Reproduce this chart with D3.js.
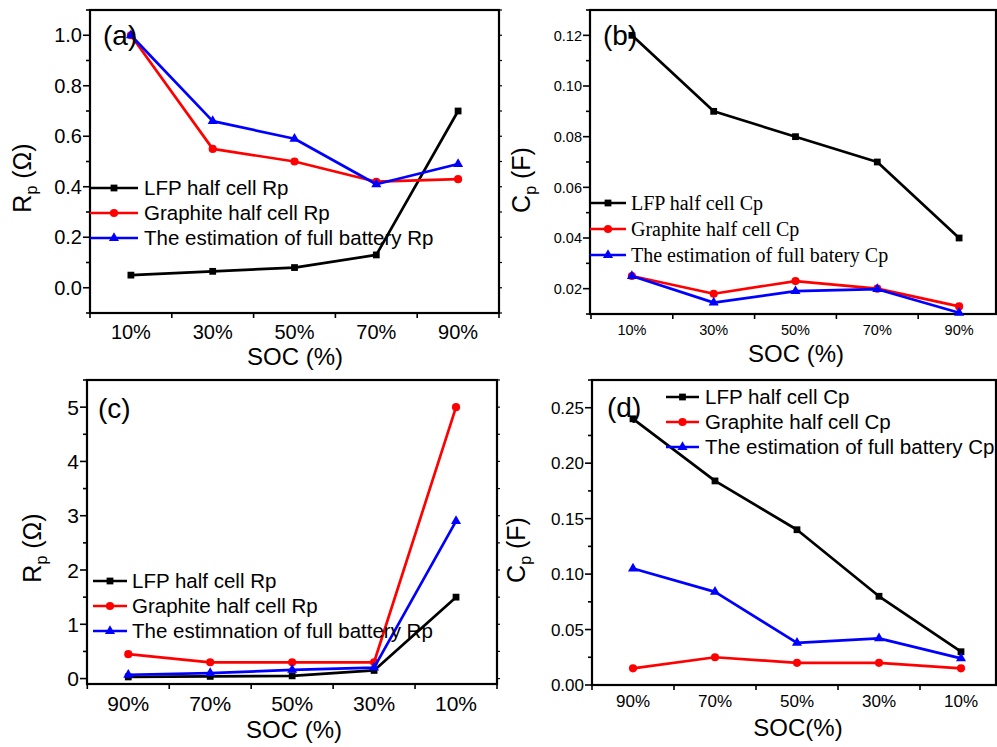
<!DOCTYPE html>
<html><head><meta charset="utf-8">
<script src="https://cdn.jsdelivr.net/npm/d3@7"></script>
<style>body{margin:0;background:#fff} svg{display:block}</style>
</head><body>
<script>
// ---------------- data ----------------
const socAB = [10, 30, 50, 70, 90];
const socCD = [90, 70, 50, 30, 10];
const socLabelsAB = ["10%", "30%", "50%", "70%", "90%"];
const socLabelsCD = ["90%", "70%", "50%", "30%", "10%"];

const rpA_LFP = [0.05, 0.065, 0.08, 0.13, 0.70];
const rpA_Graphite = [1.0, 0.55, 0.50, 0.42, 0.43];
const rpA_Full = [1.0, 0.66, 0.59, 0.41, 0.49];

const cpB_LFP = [0.12, 0.09, 0.08, 0.07, 0.04];
const cpB_Graphite = [0.025, 0.018, 0.023, 0.020, 0.013];
const cpB_Full = [0.025, 0.0145, 0.019, 0.0198, 0.0105];

const rpC_LFP = [0.03, 0.04, 0.05, 0.15, 1.5];
const rpC_Graphite = [0.45, 0.30, 0.30, 0.30, 5.0];
const rpC_Full = [0.07, 0.10, 0.16, 0.20, 2.9];

const cpD_LFP = [0.24, 0.184, 0.14, 0.08, 0.03];
const cpD_Graphite = [0.015, 0.025, 0.02, 0.02, 0.015];
const cpD_Full = [0.105, 0.084, 0.038, 0.042, 0.024];

const legendA = ["LFP half cell Rp", "Graphite half cell Rp", "The estimation of full battery Rp"];
const legendB = ["LFP half cell Cp", "Graphite half cell Cp", "The estimation of full batery Cp"];
const legendC = ["LFP half cell Rp", "Graphite half cell Rp", "The estimnation of full battery Rp"];
const legendD = ["LFP half cell Cp", "Graphite half cell Cp", "The estimation of full battery Cp"];

const yMajorA = [0, 0.2, 0.4, 0.6, 0.8, 1.0];
const yMajorB = [0.02, 0.04, 0.06, 0.08, 0.10, 0.12];
const yMajorC = [0, 1, 2, 3, 4, 5];
const yMajorD = [0, 0.05, 0.10, 0.15, 0.20, 0.25];

// ---------------- layout ----------------
const W = 997, H = 747;
const svg = d3.select("body").append("svg").attr("width", W).attr("height", H);
const SANS = "Liberation Sans, Arial, sans-serif";
const SERIF = "Liberation Serif, Times New Roman, serif";
const colors = ["#000000", "#ff0000", "#0000ff"];
const symbols = [d3.symbolSquare, d3.symbolCircle, d3.symbolTriangle];
const symSizes = [46, 52, 44];

const panels = [
  {
    label: "(a)", labelX: 103, labelY: 45,
    box: {x0: 90, x1: 499, y0: 10, y1: 313}, xRange: [90, 499], xDom: [0, 100],
    yDom: [-0.1, 1.1], yMajor: yMajorA, yMinorStep: 0.1, yFmt: d3.format(".1f"),
    xs: socAB, xLabels: socLabelsAB, series: [rpA_LFP, rpA_Graphite, rpA_Full],
    tickFont: 20, xLabelY: 339, yLabelGap: 8,
    xTitle: "SOC (%)", xTitleX: 295, xTitleY: 365,
    yTitle: ["R", "p", " (Ω)"], yTitleX: 31, yTitleY: 178,
    legend: legendA, legFont: SANS, legSize: 20.5, legX0: 90, legX1: 138, legTX: 144, legY: [188, 213, 238],
    rightTicks: true
  },
  {
    label: "(b)", labelX: 603, labelY: 45,
    box: {x0: 590, x1: 996, y0: 10, y1: 314}, xRange: [591, 1000], xDom: [0, 100],
    yDom: [0.01, 0.13], yMajor: yMajorB, yMinorStep: 0.01, yFmt: d3.format(".2f"),
    xs: socAB, xLabels: socLabelsAB, series: [cpB_LFP, cpB_Graphite, cpB_Full],
    tickFont: 14.5, xLabelY: 334.5, yLabelGap: 8,
    xTitle: "SOC (%)", xTitleX: 796, xTitleY: 362,
    yTitle: ["C", "p", " (F)"], yTitleX: 530, yTitleY: 180,
    legend: legendB, legFont: SERIF, legSize: 20, legX0: 590, legX1: 626, legTX: 631, legY: [203, 229, 255],
    rightTicks: false
  },
  {
    label: "(c)", labelX: 98, labelY: 418,
    box: {x0: 87, x1: 497, y0: 380, y1: 684}, xRange: [87.3, 497], xDom: [100, 0],
    yDom: [-0.1, 5.5], yMajor: yMajorC, yMinorStep: 0.5, yFmt: d3.format("d"),
    xs: socCD, xLabels: socLabelsCD, series: [rpC_LFP, rpC_Graphite, rpC_Full],
    tickFont: 21, xLabelY: 710.5, yLabelGap: 8,
    xTitle: "SOC (%)", xTitleX: 294, xTitleY: 738,
    yTitle: ["R", "p", " (Ω)"], yTitleX: 41, yTitleY: 548,
    legend: legendC, legFont: SANS, legSize: 20.5, legX0: 93, legX1: 127, legTX: 132, legY: [581, 606, 631],
    rightTicks: true
  },
  {
    label: "(d)", labelX: 607, labelY: 417,
    box: {x0: 592, x1: 996, y0: 380, y1: 685}, xRange: [592, 1002], xDom: [100, 0],
    yDom: [0, 0.275], yMajor: yMajorD, yMinorStep: 0.025, yFmt: d3.format(".2f"),
    xs: socCD, xLabels: socLabelsCD, series: [cpD_LFP, cpD_Graphite, cpD_Full],
    tickFont: 17, xLabelY: 707, yLabelGap: 8,
    xTitle: "SOC(%)", xTitleX: 798, xTitleY: 736,
    yTitle: ["C", "p", " (F)"], yTitleX: 525, yTitleY: 550,
    legend: legendD, legFont: SANS, legSize: 20.5, legX0: 666, legX1: 699, legTX: 705, legY: [397, 422, 447],
    rightTicks: false
  }
];

panels.forEach(p => {
  const g = svg.append("g");
  const b = p.box;
  const x = d3.scaleLinear().domain(p.xDom).range(p.xRange);
  const y = d3.scaleLinear().domain(p.yDom).range([b.y1, b.y0]);

  const yMin = p.yDom[0], yMax = p.yDom[1];
  const minor = d3.range(Math.ceil((yMin - 1e-9) / p.yMinorStep) * p.yMinorStep, yMax + 1e-9, p.yMinorStep);
  const isMajor = v => p.yMajor.some(m => Math.abs(m - v) < 1e-9);
  minor.forEach(v => {
    const yy = y(v);
    if (yy < b.y0 - 0.5 || yy > b.y1 + 0.5) return;
    const len = isMajor(v) ? 7 : 4;
    g.append("line").attr("x1", b.x0 - len).attr("x2", b.x0).attr("y1", yy).attr("y2", yy)
      .attr("stroke", "#000").attr("stroke-width", 1.6);
    if (p.rightTicks) {
      g.append("line").attr("x1", b.x1).attr("x2", b.x1 + 3).attr("y1", yy).attr("y2", yy)
        .attr("stroke", "#000").attr("stroke-width", 1.2);
    }
  });
  p.yMajor.forEach(v => {
    g.append("text").attr("x", b.x0 - p.yLabelGap).attr("y", y(v)).attr("dy", "0.36em")
      .attr("text-anchor", "end").attr("font-family", SANS).attr("font-size", p.tickFont)
      .text(p.yFmt(v));
  });

  const xt = d3.range(0, 101, 20);
  xt.forEach(v => {
    const xx = x(v);
    if (xx > W) return;
    g.append("line").attr("x1", xx).attr("x2", xx).attr("y1", b.y1).attr("y2", b.y1 + 5)
      .attr("stroke", "#000").attr("stroke-width", 1.6);
  });
  p.xs.forEach((v, i) => {
    g.append("text").attr("x", x(v)).attr("y", p.xLabelY).attr("text-anchor", "middle")
      .attr("font-family", SANS).attr("font-size", p.tickFont).text(p.xLabels[i]);
  });

  g.append("rect").attr("x", b.x0).attr("y", b.y0).attr("width", b.x1 - b.x0).attr("height", b.y1 - b.y0)
    .attr("fill", "none").attr("stroke", "#000").attr("stroke-width", 2.2);

  const line = d3.line().x((d, i) => x(p.xs[i])).y(d => y(d));
  p.series.forEach((s, k) => {
    g.append("path").datum(s).attr("d", line).attr("fill", "none")
      .attr("stroke", colors[k]).attr("stroke-width", 2.7).attr("stroke-linejoin", "round");
    g.selectAll(null).data(s).enter().append("path")
      .attr("d", d3.symbol().type(symbols[k]).size(symSizes[k]))
      .attr("transform", (d, i) => `translate(${x(p.xs[i])},${y(d)})`)
      .attr("fill", colors[k]);
  });

  p.legend.forEach((t, k) => {
    const ly = p.legY[k];
    g.append("line").attr("x1", p.legX0).attr("x2", p.legX1).attr("y1", ly).attr("y2", ly)
      .attr("stroke", colors[k]).attr("stroke-width", 2.7);
    g.append("path").attr("d", d3.symbol().type(symbols[k]).size(symSizes[k]))
      .attr("transform", `translate(${(p.legX0 + p.legX1) / 2},${ly})`).attr("fill", colors[k]);
    g.append("text").attr("x", p.legTX).attr("y", ly).attr("dy", "0.35em")
      .attr("font-family", p.legFont).attr("font-size", p.legSize).text(t);
  });

  g.append("text").attr("x", p.labelX).attr("y", p.labelY).attr("font-family", SANS)
    .attr("font-size", 28).text(p.label);

  g.append("text").attr("x", p.xTitleX).attr("y", p.xTitleY).attr("text-anchor", "middle")
    .attr("font-family", SANS).attr("font-size", 24).text(p.xTitle);

  const yt = g.append("text").attr("transform", `translate(${p.yTitleX},${p.yTitleY}) rotate(-90)`)
    .attr("text-anchor", "middle").attr("font-family", SANS).attr("font-size", 25);
  yt.append("tspan").text(p.yTitle[0]);
  yt.append("tspan").attr("font-size", 16).attr("dy", 6).text(p.yTitle[1]);
  yt.append("tspan").attr("dy", -6).text(p.yTitle[2]);
});
</script>
</body></html>
